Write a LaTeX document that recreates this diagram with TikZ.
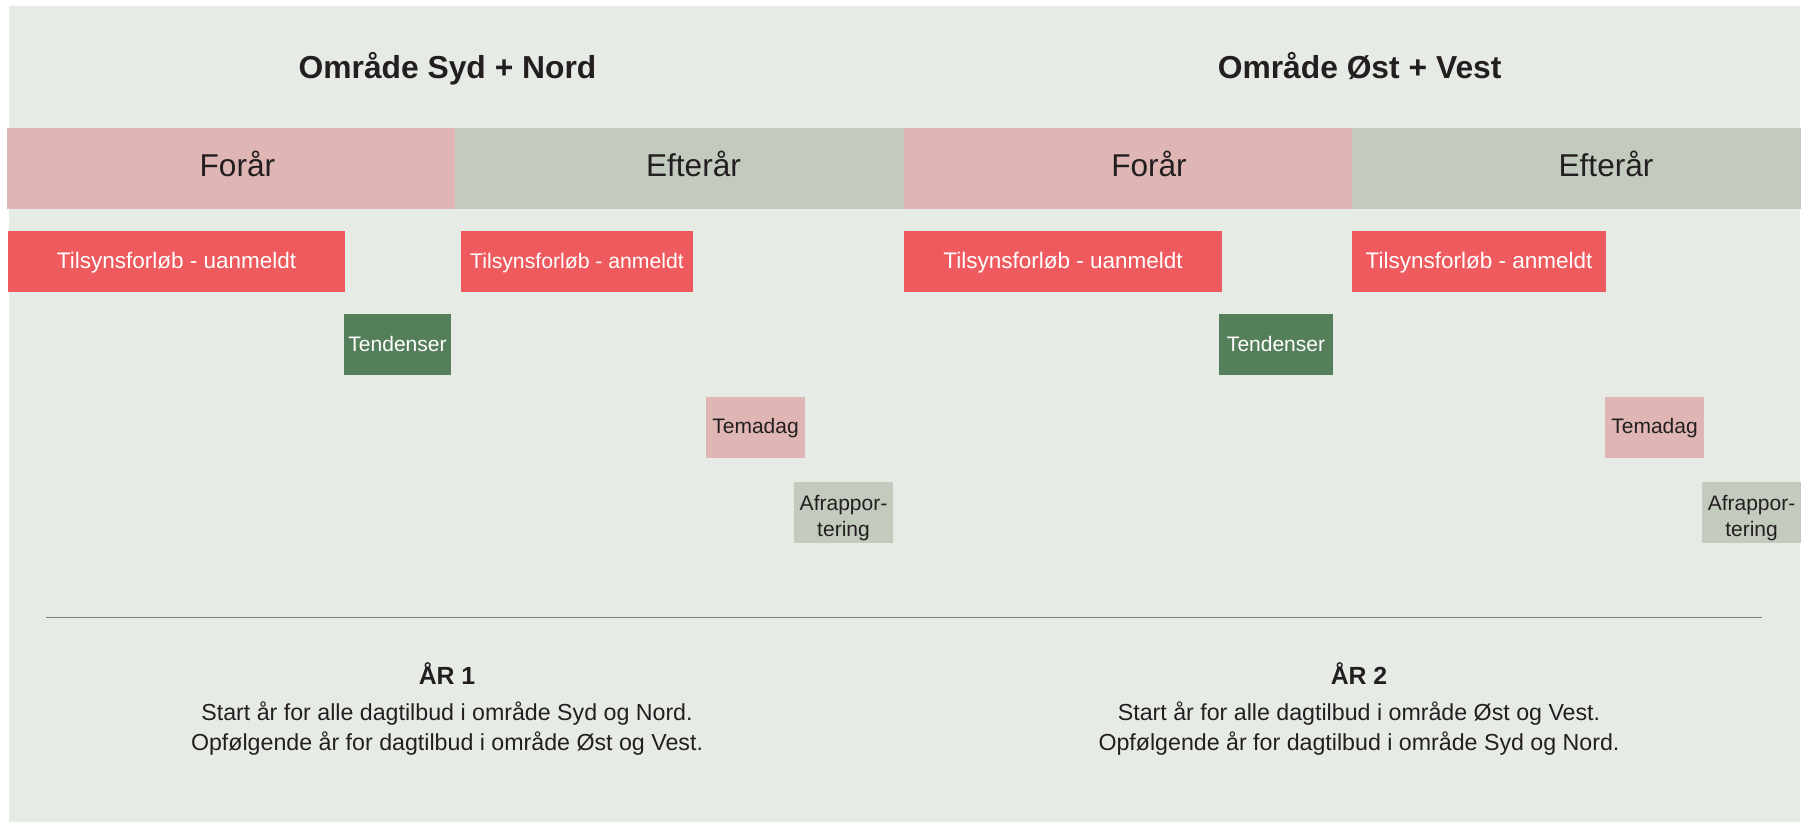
\documentclass[tikz,border=0pt]{standalone}
\usepackage{fontspec}
\setmainfont{Liberation Sans}
\definecolor{bgc}{HTML}{E6EBE5}
\definecolor{pinkc}{HTML}{E0B6B4}
\definecolor{greyc}{HTML}{C3CBBF}
\definecolor{redc}{HTML}{EF5A5E}
\definecolor{greenc}{HTML}{557E5A}
\definecolor{darkc}{HTML}{231F20}
\definecolor{linec}{HTML}{75876F}
\begin{document}
\begin{tikzpicture}[x=0.5pt,y=-0.5pt,
  box/.style={inner sep=0pt, outer sep=0pt, minimum height=30.35pt, anchor=center, draw=none},
  redbox/.style={box, fill=redc, text=white, font=\fontsize{11.25}{13}\selectfont, text height=8.06pt, text depth=0.9pt},
  redboxsmall/.style={redbox, font=\fontsize{10.6}{12.5}\selectfont, text height=7.6pt, text depth=0.6pt},
  greenbox/.style={box, fill=greenc, text=white, font=\fontsize{10.5}{12}\selectfont, text height=7.52pt, text depth=0.17pt},
  pinkbox/.style={box, fill=pinkc, text=darkc, font=\fontsize{10.5}{12}\selectfont, text height=7.52pt, text depth=1.57pt},
  greybox/.style={box, fill=greyc},
  smalltext/.style={anchor=base, inner sep=0pt, text=darkc, font=\fontsize{10.5}{12}\selectfont},
  seg/.style={inner sep=0pt, outer sep=0pt, minimum height=40.35pt, draw=none},
  seglabel/.style={anchor=base, inner sep=0pt, text=darkc, font=\fontsize{15.8}{18}\selectfont},
  titletext/.style={anchor=base, inner sep=0pt, text=darkc, font=\fontsize{15.9}{19}\selectfont\bfseries},
  yearhead/.style={anchor=base, inner sep=0pt, text=darkc, font=\fontsize{12.4}{15}\selectfont\bfseries},
  bodytext/.style={anchor=base, inner sep=0pt, text=darkc, font=\fontsize{11.6}{14}\selectfont}
]
\useasboundingbox (0,0) rectangle (1803,822);
\fill[bgc] (9,6) rectangle (1800,822);

% titles
\node[titletext] (t1) at (447.5,78.5) {Område Syd + Nord};
\node[titletext] (t2) at (1359.6,78.5) {Område Øst + Vest};

% season bar
\node[seg, fill=pinkc, minimum width=224pt] (s1) at (231,168.35) {};
\node[seg, fill=greyc, minimum width=224.5pt] (s2) at (679.5,168.35) {};
\node[seg, fill=pinkc, minimum width=224pt] (s3) at (1128,168.35) {};
\node[seg, fill=greyc, minimum width=224.5pt] (s4) at (1576.5,168.35) {};
\node[seglabel] (l1) at (237.4,176.5) {Forår};
\node[seglabel] (l2) at (693.5,176.5) {Efterår};
\node[seglabel] (l3) at (1149,176.5) {Forår};
\node[seglabel] (l4) at (1606,176.5) {Efterår};

% red boxes
\node[redbox, minimum width=168.5pt] (r1) at (176.5,261.35) {Tilsynsforløb - uanmeldt};
\node[redboxsmall, minimum width=116pt] (r2) at (577,261.35) {Tilsynsforløb - anmeldt};
\node[redbox, minimum width=159pt] (r3) at (1063,261.35) {Tilsynsforløb - uanmeldt};
\node[redbox, minimum width=127pt] (r4) at (1479,261.35) {Tilsynsforløb - anmeldt};

% Tendenser
\node[greenbox, minimum width=53.5pt] (g1) at (397.5,344.35) {Tendenser};
\node[greenbox, minimum width=57pt] (g2) at (1276,344.35) {Tendenser};

% Temadag
\node[pinkbox, minimum width=49.5pt] (p1) at (755.5,427.35) {Temadag};
\node[pinkbox, minimum width=49.5pt] (p2) at (1654.5,427.35) {Temadag};

% Afrapportering
\node[greybox, minimum width=49.5pt] (a1) at (843.5,512.35) {};
\node[smalltext] (a1t) at (843.5,511) {Afrappor-};
\node[smalltext] (a1b) at (843.5,536.7) {tering};
\node[greybox, minimum width=49.5pt] (a2) at (1751.5,512.35) {};
\node[smalltext] (a2t) at (1751.5,511) {Afrappor-};
\node[smalltext] (a2b) at (1751.5,536.7) {tering};

% divider
\coordinate (dl) at (46,617.5);
\coordinate (dr) at (1762,617.5);
\draw[linec, line width=0.75pt] (dl) -- (dr);

% year texts
\node[yearhead] (y1) at (447,684) {ÅR 1};
\node[bodytext] (y1a) at (447,720) {Start år for alle dagtilbud i område Syd og Nord.};
\node[bodytext] (y1b) at (447,750.5) {Opfølgende år for dagtilbud i område Øst og Vest.};
\node[yearhead] (y2) at (1359,684) {ÅR 2};
\node[bodytext] (y2a) at (1359,720) {Start år for alle dagtilbud i område Øst og Vest.};
\node[bodytext] (y2b) at (1359,750.5) {Opfølgende år for dagtilbud i område Syd og Nord.};
\end{tikzpicture}
\end{document}
